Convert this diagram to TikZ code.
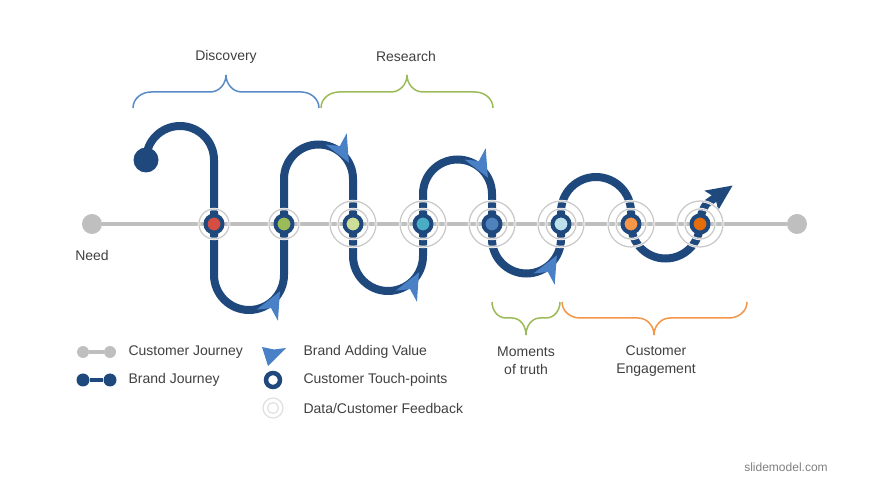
\documentclass[tikz,border=0pt]{standalone}
\usepackage{fontspec}
\setmainfont{Liberation Sans}
\usetikzlibrary{arrows.meta, decorations.markings}

\definecolor{brandblue}{RGB}{31,73,125}
\definecolor{valueblue}{RGB}{74,128,198}
\definecolor{trackgray}{RGB}{191,191,191}
\definecolor{ringgray}{RGB}{200,200,200}
\definecolor{txtgray}{RGB}{64,64,64}
\definecolor{discblue}{RGB}{88,138,198}
\definecolor{resgreen}{RGB}{155,187,89}
\definecolor{engorange}{RGB}{244,150,72}
\definecolor{tpred}{RGB}{214,77,66}
\definecolor{tpgreen}{RGB}{155,187,89}
\definecolor{tppale}{RGB}{205,222,152}
\definecolor{tpteal}{RGB}{75,172,198}
\definecolor{tpblue}{RGB}{79,129,189}
\definecolor{tpice}{RGB}{190,224,234}
\definecolor{tporange}{RGB}{247,150,70}
\definecolor{tpdark}{RGB}{228,108,10}

\begin{document}
\begin{tikzpicture}[x=1pt, y=1pt,
  track/.style={trackgray, line width=4},
  enddot/.style={circle, fill=trackgray, minimum size=20, inner sep=0},
  brand/.style={brandblue, line width=8},
  addvalue/.style={postaction={decorate, decoration={markings,
    mark=at position -17pt with {\arrow[valueblue]{Stealth[length=27pt, width=24pt, inset=8pt, line width=0pt]}}}}},
  touch/.style={circle, draw=brandblue, line width=4, minimum size=17, inner sep=0},
  ring/.style={circle, draw=ringgray, line width=1.2, inner sep=0, preaction={draw=white, line width=2.4}},
  phase/.style={line width=1.5},
  phaselabel/.style={text=txtgray, font=\fontsize{14}{18}\selectfont, align=center},
  legendtext/.style={text=txtgray, font=\fontsize{14}{18}\selectfont, anchor=west}
]
\useasboundingbox (0,0) rectangle (870,490);

% Customer journey line
\node (needdot) [enddot] at (92,266) {};
\node (enddot) [enddot] at (797,266) {};
\draw[track] (needdot) -- (enddot);
\node (needlabel) [phaselabel] at (92,235) {Need};

% Brand journey
\node (start) [circle, fill=brandblue, minimum size=25, inner sep=0] at (146,330) {};
\draw[brand, addvalue] (start.center) arc (180:0:34) -- (214,215) arc (180:360:35);
\draw[brand, addvalue] (284,215) -- (284,311) arc (180:0:34.5);
\draw[brand, addvalue] (353,311) -- (353,234) arc (180:360:35);
\draw[brand, addvalue] (423,234) -- (423,296) arc (180:0:34.5);
\draw[brand, addvalue] (492,296) -- (492,251) arc (180:360:34.5);
\draw[brand, -{Stealth[length=26pt, width=24pt, inset=5pt, line width=0pt]}]
  (561,251) -- (561,278) arc (180:0:35) -- (631,266) arc (180:360:34.5)
  arc (180:145:35) -- ++(35:32);

% Touch-points and feedback rings
\foreach \x/\c [count=\i] in {214/tpred, 284/tpgreen, 353/tppale, 423/tpteal,
                              492/tpblue, 561/tpice, 631/tporange, 700/tpdark}
  \node (tp\i) [touch, fill=\c] at (\x,266) {};
\foreach \i in {1,...,8}
  \node (inring\i) [ring, minimum size=30] at (tp\i) {};
\foreach \i in {3,...,8}
  \node (outring\i) [ring, minimum size=46] at (tp\i) {};

% Phase braces
\draw[phase, discblue] (133,382) to[out=90,in=180] (151,398) -- (210,398)
  to[out=0,in=-90] (226,415) to[out=-90,in=180] (242,398) -- (301,398)
  to[out=0,in=90] (319,382);
\draw[phase, resgreen] (321,382) to[out=90,in=180] (339,398) -- (391,398)
  to[out=0,in=-90] (407,415) to[out=-90,in=180] (423,398) -- (475,398)
  to[out=0,in=90] (493,382);
\draw[phase, resgreen] (492,188) to[out=-90,in=180] (506,172) -- (512,172)
  to[out=0,in=90] (526,155) to[out=90,in=180] (540,172) -- (546,172)
  to[out=0,in=-90] (560,188);
\draw[phase, engorange] (562,188) to[out=-90,in=180] (580,172) -- (638,172)
  to[out=0,in=90] (654,155) to[out=90,in=180] (670,172) -- (729,172)
  to[out=0,in=-90] (747,188);

\node (discovery) [phaselabel] at (226,433) {Discovery};
\node (research) [phaselabel] at (406,433) {Research};
\node (moments) [phaselabel] at (526,129) {Moments\\of truth};
\node (engage) [phaselabel] at (656,129) {Customer\\Engagement};

% Legend
\node (cjA) [enddot, minimum size=12] at (83,138) {};
\node (cjB) [enddot, minimum size=12] at (110,138) {};
\draw[track] (cjA) -- (cjB);
\node (cjtext) [legendtext] at (125,138) {Customer Journey};
\node (bjA) [circle, fill=brandblue, minimum size=13, inner sep=0] at (83,110) {};
\node (bjB) [circle, fill=brandblue, minimum size=13, inner sep=0] at (110,110) {};
\draw[brandblue, line width=4] (bjA) -- (bjB);
\node (bjtext) [legendtext] at (125,110) {Brand Journey};

\fill[valueblue] (268,124) -- (262,143) -- (274,140.5) -- (286,142) -- cycle;
\node (avtext) [legendtext] at (300,138) {Brand Adding Value};
\node (tpkey) [touch, fill=white, line width=4.5, minimum size=14] at (273,110) {};
\node (tptext) [legendtext] at (300,110) {Customer Touch-points};
\node (fbout) [circle, draw=gray!25, line width=1.2, minimum size=20, inner sep=0] at (273,82) {};
\node (fbin) [circle, draw=gray!25, line width=1.2, minimum size=11, inner sep=0] at (273,82) {};
\node (fbtext) [legendtext] at (300,82) {Data/Customer Feedback};

\node (credit) [text=gray, font=\fontsize{12}{14}\selectfont] at (786,23) {slidemodel.com};
\end{tikzpicture}
\end{document}
